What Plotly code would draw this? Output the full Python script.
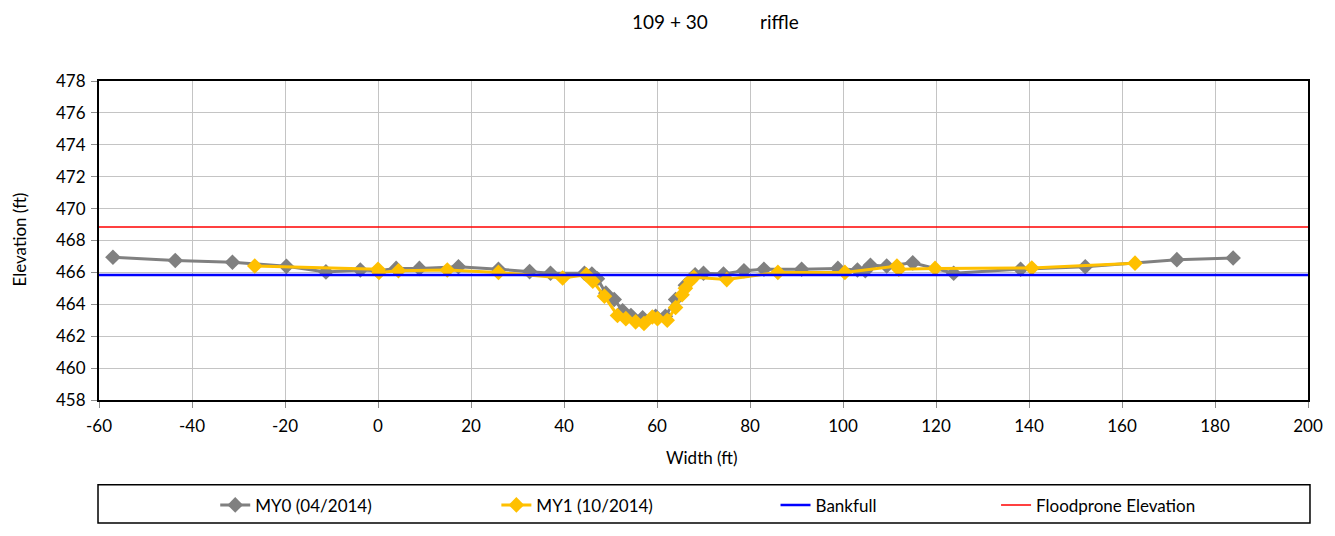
import plotly.graph_objects as go

# Cross-section survey, station 109+30 (riffle)
my0_x = [-57.0, -43.6, -31.3, -19.7, -11.2, -3.8, 0.0, 3.9, 8.9, 17.3, 25.9, 32.6, 37.1,
         44.4, 46.0, 47.2, 49.0, 50.8, 52.6, 54.4, 56.9, 59.7, 61.8, 64.0, 66.1, 68.2,
         70.0, 74.3, 78.7, 83.0, 91.1, 98.9, 103.1, 104.8, 105.9, 109.4, 115.0, 123.8,
         138.2, 152.1, 171.8, 183.9]
my0_y = [466.95, 466.75, 466.64, 466.38, 466.03, 466.15, 466.10, 466.25, 466.25, 466.35,
         466.20, 466.05, 465.95, 465.95, 465.90, 465.60, 464.70, 464.30, 463.60, 463.30,
         463.15, 463.25, 463.25, 464.30, 465.20, 465.85, 465.95, 465.90, 466.10, 466.20,
         466.20, 466.25, 466.15, 466.10, 466.45, 466.40, 466.60, 465.95, 466.20, 466.35,
         466.80, 466.90]

my1_x = [-26.5, 0.0, 0.2, 4.4, 14.9, 25.9, 39.7, 44.8, 46.2, 48.7, 51.5, 53.3, 55.4,
         57.2, 59.0, 60.1, 62.2, 64.0, 65.4, 66.1, 67.2, 67.9, 75.0, 86.0, 100.4, 111.6,
         112.0, 119.8, 140.6, 162.8]
my1_y = [466.40, 466.20, 466.00, 466.10, 466.15, 466.00, 465.65, 465.85, 465.45, 464.50,
         463.30, 463.10, 462.90, 462.80, 463.20, 463.10, 463.00, 463.80, 464.60, 465.00,
         465.50, 465.70, 465.55, 466.00, 466.00, 466.40, 466.20, 466.25, 466.28, 466.58]

x_extent = [-60, 200]
bankfull_elev = 465.83
floodprone_elev = 468.84

x_ticks = list(range(-60, 201, 20))
x_tick_labels = ["-60", "-40", "-20", "0", "20", "40", "60", "80", "100", "120", "140",
                 "160", "180", "200"]
y_ticks = list(range(458, 479, 2))

FONT = "Lato"
FS = 17
W, H = 1335, 536
L, R, T, B = 99, 19, 81, 128
plot_w = W - L - R
plot_h = H - T - B


def px_x(px):
    return (px - L) / plot_w


def px_y(py):
    return (H - B - py) / plot_h


fig = go.Figure()

fig.add_trace(go.Scatter(
    x=my0_x, y=my0_y, mode="lines+markers", name="MY0 (04/2014)",
    line=dict(color="#808080", width=3),
    marker=dict(symbol="diamond", size=12, color="#808080"),
    legend="legend",
))
fig.add_trace(go.Scatter(
    x=my1_x, y=my1_y, mode="lines+markers", name="MY1 (10/2014)",
    line=dict(color="#FFC000", width=3),
    marker=dict(symbol="diamond", size=12, color="#FFC000"),
    legend="legend2",
))
fig.add_trace(go.Scatter(
    x=x_extent, y=[bankfull_elev] * 2, mode="lines", name="Bankfull",
    line=dict(color="#0000FF", width=2.5),
    legend="legend3",
))
fig.add_trace(go.Scatter(
    x=x_extent, y=[floodprone_elev] * 2, mode="lines", name="Floodprone Elevation",
    line=dict(color="#FF0000", width=1.5),
    legend="legend4",
))

legend_font = dict(family=FONT, size=FS, color="black")
leg_y = px_y(516)


def leg(px):
    return dict(x=px_x(px), y=leg_y, xanchor="left", yanchor="middle",
                orientation="h", font=legend_font, bgcolor="rgba(0,0,0,0)",
                borderwidth=0, itemwidth=30)


axis_common = dict(
    showgrid=True, gridcolor="#c4c4c4", gridwidth=1,
    showline=True, linecolor="black", linewidth=2, mirror=True,
    ticks="outside", ticklen=6, tickcolor="#8c8c8c",
    tickfont=dict(family=FONT, size=FS, color="black"),
    zeroline=False,
)

title_font = dict(family=FONT, size=19, color="black")

fig.update_layout(
    width=W, height=H,
    margin=dict(l=L, r=R, t=T, b=B),
    paper_bgcolor="white", plot_bgcolor="white",
    showlegend=True,
    legend=leg(216), legend2=leg(499), legend3=leg(780), legend4=leg(1002),
    xaxis=dict(range=x_extent, tickvals=x_ticks, ticktext=x_tick_labels,
               ticklabelstandoff=4, **axis_common),
    yaxis=dict(range=[458, 478], tickvals=y_ticks, ticklabelstandoff=2, **axis_common),
    annotations=[
        dict(text="109 + 30", xref="paper", yref="paper",
             x=px_x(634), y=px_y(20), xanchor="left", yanchor="middle",
             showarrow=False, font=title_font),
        dict(text="riffle", xref="paper", yref="paper",
             x=px_x(806), y=px_y(20), xanchor="right", yanchor="middle",
             showarrow=False, font=title_font),
        dict(text="Width (ft)", xref="paper", yref="paper",
             x=px_x(706), y=px_y(467), xanchor="center", yanchor="middle",
             showarrow=False, font=dict(family=FONT, size=FS, color="black")),
        dict(text="Elevation (ft)", xref="paper", yref="paper", textangle=-90,
             x=px_x(18), y=px_y(244), xanchor="center", yanchor="middle",
             showarrow=False, font=dict(family=FONT, size=FS, color="black")),
    ],
    shapes=[
        dict(type="rect", xref="paper", yref="paper",
             x0=px_x(98), x1=px_x(1318), y0=px_y(495), y1=px_y(534),
             line=dict(color="black", width=1.5), fillcolor="rgba(0,0,0,0)"),
    ],
)

fig.write_html("out.html")
